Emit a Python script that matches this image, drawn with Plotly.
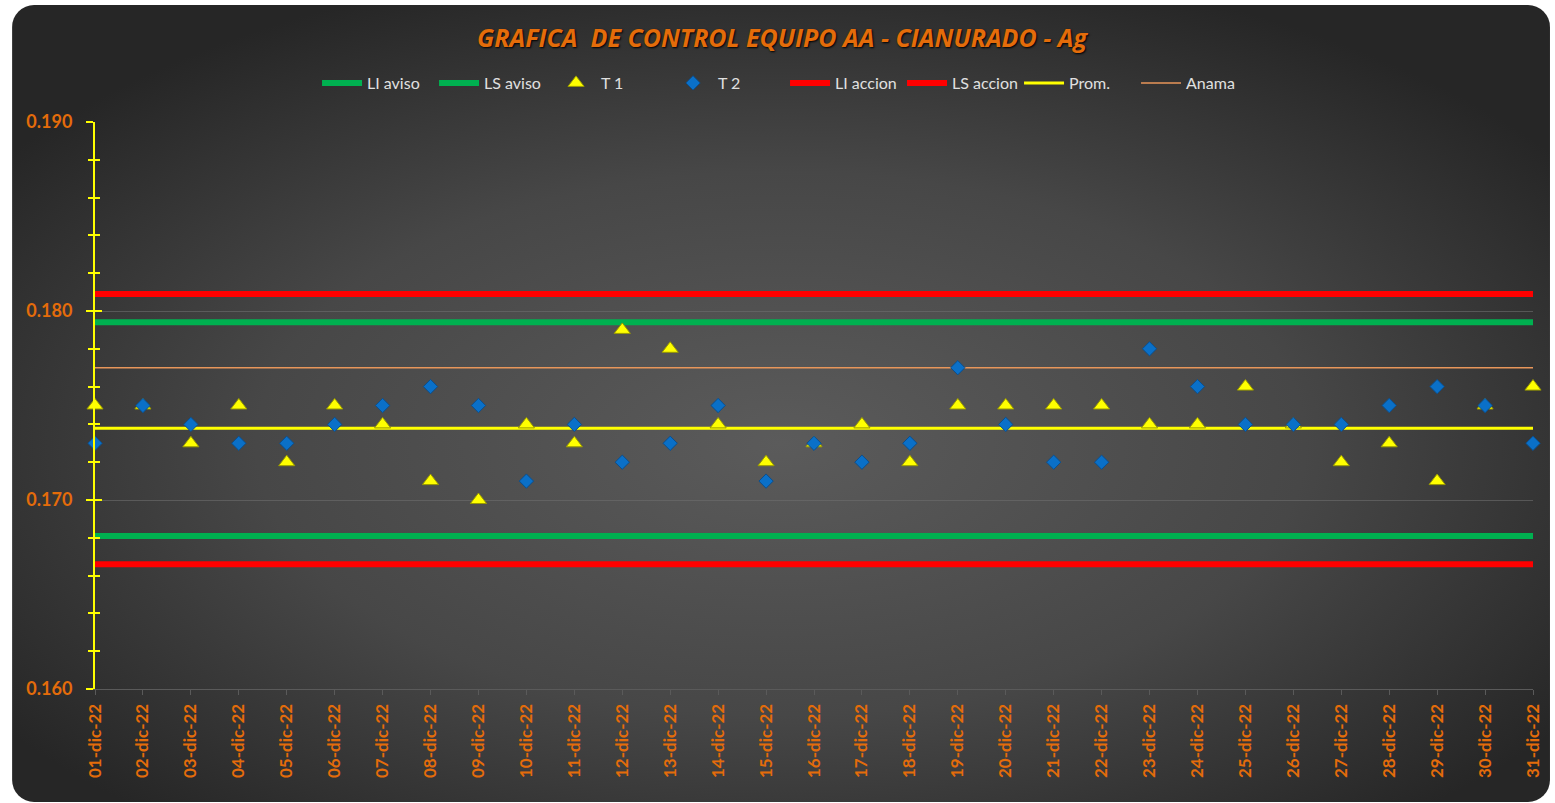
import base64
import plotly.graph_objects as go

# ---------------- data ----------------
dates = [f"{d:02d}-dic-22" for d in range(1, 32)]

t1 = [0.175, 0.175, 0.173, 0.175, 0.172, 0.175, 0.174, 0.171, 0.170, 0.174,
      0.173, 0.179, 0.178, 0.174, 0.172, 0.173, 0.174, 0.172, 0.175, 0.175,
      0.175, 0.175, 0.174, 0.174, 0.176, 0.174, 0.172, 0.173, 0.171, 0.175,
      0.176]
t2 = [0.173, 0.175, 0.174, 0.173, 0.173, 0.174, 0.175, 0.176, 0.175, 0.171,
      0.174, 0.172, 0.173, 0.175, 0.171, 0.173, 0.172, 0.173, 0.177, 0.174,
      0.172, 0.172, 0.178, 0.176, 0.174, 0.174, 0.174, 0.175, 0.176, 0.175,
      0.173]

li_aviso_value = 0.1681
ls_aviso_value = 0.1794
li_accion_value = 0.1666
ls_accion_value = 0.1809
prom_value = 0.1738
anama_value = 0.1770

li_aviso = [li_aviso_value] * len(dates)
ls_aviso = [ls_aviso_value] * len(dates)
li_accion = [li_accion_value] * len(dates)
ls_accion = [ls_accion_value] * len(dates)
prom = [prom_value] * len(dates)
anama = [anama_value] * len(dates)

title_text = "GRAFICA  DE CONTROL EQUIPO AA - CIANURADO - Ag"

# ---------------- style ----------------
W, H = 1555, 803
ML, MR, MT, MB = 95, 20, 122, 114
PW = W - ML - MR
PH = H - MT - MB
ORANGE = "#E46C0A"
FONT = "Lato"

fig = go.Figure()

def hline(name, vals, color, width, rank):
    fig.add_trace(go.Scatter(
        x=dates, y=vals, mode="lines", name=name,
        line=dict(color=color, width=width), legendrank=rank,
        hoverinfo="skip", cliponaxis=False))

hline("LI aviso", li_aviso, "#00B050", 6, 1)
hline("LS aviso", ls_aviso, "#00B050", 6, 2)
hline("LI accion", li_accion, "#FF0000", 6, 5)
hline("LS accion", ls_accion, "#FF0000", 6, 6)
hline("Prom.", prom, "#FFFF00", 3, 7)
hline("Anama", anama, "#E8965A", 1.5, 8)

fig.add_trace(go.Scatter(
    x=dates, y=t1, mode="markers", name="T 1", legendrank=3,
    marker=dict(symbol="triangle-up", size=14, color="#FFFF00",
                line=dict(color="#9A9A00", width=1)),
    cliponaxis=False))
fig.add_trace(go.Scatter(
    x=dates, y=t2, mode="markers", name="T 2", legendrank=4,
    marker=dict(symbol="diamond", size=11, color="#0A70C8",
                line=dict(color="#0A4F8F", width=1)),
    cliponaxis=False))

# overlay axis to get crossing ticks on the y axis
fig.add_trace(go.Scatter(x=[dates[0]], y=[t1[0]], yaxis="y2", mode="markers",
                         marker=dict(opacity=0), showlegend=False, hoverinfo="skip"))

# background card with gradient
cw, ch = 1540, 797
svg = f'''<svg xmlns="http://www.w3.org/2000/svg" width="{cw}" height="{ch}" viewBox="0 0 {cw} {ch}">
<defs><radialGradient id="g" cx="50%" cy="55%" r="62%">
<stop offset="0%" stop-color="#5b5b5b"/><stop offset="55%" stop-color="#474747"/><stop offset="100%" stop-color="#262626"/>
</radialGradient></defs>
<rect x="0" y="0" width="{cw}" height="{ch}" rx="22" ry="22" fill="url(#g)"/>
</svg>'''
src = "data:image/svg+xml;base64," + base64.b64encode(svg.encode()).decode()
fig.add_layout_image(dict(
    source=src, xref="paper", yref="paper",
    x=(12 - ML) / PW, y=(H - MB - 5) / PH,
    sizex=cw / PW, sizey=ch / PH,
    xanchor="left", yanchor="top", sizing="stretch", layer="below"))

yrange = [0.160, 0.190]
fig.update_layout(
    width=W, height=H,
    margin=dict(l=ML, r=MR, t=MT, b=MB),
    paper_bgcolor="white", plot_bgcolor="rgba(0,0,0,0)",
    font=dict(family=FONT, color=ORANGE),
    title=dict(text=f"<b><i>{title_text}</i></b>", x=(783 - ML) / PW, xref="paper",
               xanchor="center", y=(H - 38) / H, yanchor="middle",
               font=dict(family="Open Sans", size=25, color=ORANGE,
                         shadow="1px 1px 2px #000000")),
    legend=dict(orientation="h", x=(786 - ML) / PW, xanchor="center",
                y=(H - MB - 83) / PH, yanchor="middle",
                font=dict(family=FONT, size=16, color="#E0E0E0"),
                bgcolor="rgba(0,0,0,0)", traceorder="normal",
                itemwidth=40, entrywidth=62, entrywidthmode="pixels"),
    showlegend=True,
    xaxis=dict(type="category", range=[0, len(dates) - 1],
               tickangle=-90, tickfont=dict(family=FONT, size=17, color=ORANGE, weight="bold"),
               showline=True, linecolor="#5a5a5a", linewidth=1,
               ticks="outside", ticklen=5, tickcolor="#5a5a5a",
               showgrid=False, zeroline=False, ticklabelstandoff=2),
    yaxis=dict(range=yrange, dtick=0.01, tickformat=".3f",
               tickfont=dict(family=FONT, size=18, color=ORANGE, weight="bold"),
               showline=True, linecolor="#FFFF00", linewidth=2,
               ticks="outside", ticklen=7, tickcolor="#FFFF00", tickwidth=2,
               minor=dict(dtick=0.002, ticks="outside", ticklen=5,
                          tickcolor="#FFFF00", tickwidth=1.5, showgrid=False),
               showgrid=True, gridcolor="rgba(110,110,110,0.6)", gridwidth=1,
               zeroline=False, ticklabelstandoff=10),
    yaxis2=dict(range=yrange, overlaying="y", side="left", dtick=0.01,
                showticklabels=False, showgrid=False, zeroline=False,
                ticks="inside", ticklen=7, tickcolor="#FFFF00", tickwidth=2,
                minor=dict(dtick=0.002, ticks="inside", ticklen=5,
                           tickcolor="#FFFF00", tickwidth=1.5)),
)

fig.write_html("out.html", config={"displayModeBar": False},
               post_script="document.body.style.margin='0';document.body.style.overflow='hidden';")
